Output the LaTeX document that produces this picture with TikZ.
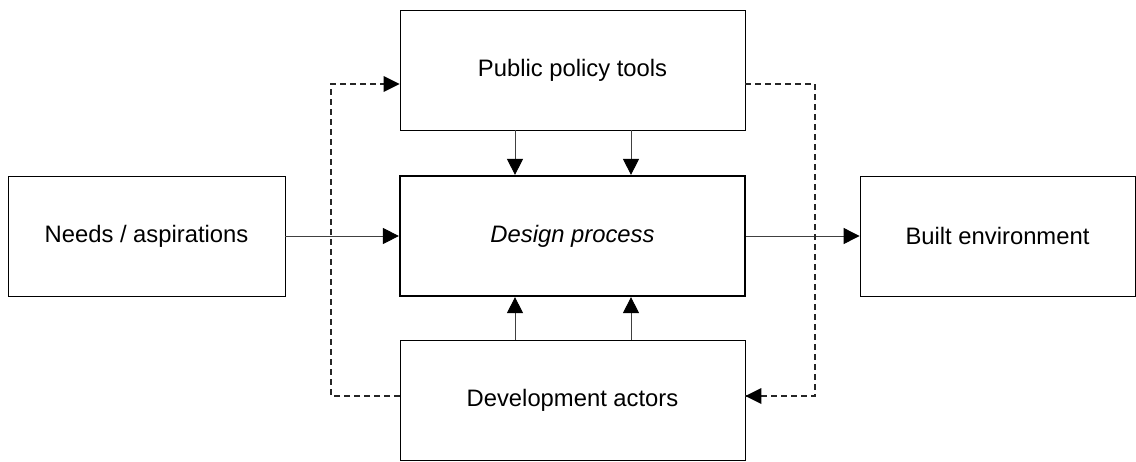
\documentclass[tikz,border=0pt]{standalone}
\usepackage{fontspec}
\setmainfont{Liberation Sans}
\usetikzlibrary{arrows.meta}
\begin{document}
\begin{tikzpicture}[x=1pt,y=-1pt,
  box/.style={draw=black,line width=0.8pt,minimum width=345pt,minimum height=120pt,inner sep=0pt,font=\fontsize{23.8}{28}\selectfont},
  sidebox/.style={box,minimum width=277pt},
  arr/.style={draw=black!75,line width=0.9pt,-{Triangle[length=16pt,width=16pt,fill=black,color=black]}},
  dashln/.style={draw=black!85,line width=1.1pt,dash pattern=on 6pt off 4pt},
  tipfill/.style={fill=black}]
\useasboundingbox (0,0) rectangle (1136,461);
\node[box] (ppt) at (572.5,70) {Public policy tools};
\node[box,line width=2.2pt] (dp) at (572.5,236) {\itshape Design process};
\node[box] (da) at (572.5,400) {Development actors};
\node[sidebox] (na) at (146.5,236) {Needs / aspirations};
\node[sidebox,minimum width=275pt] (be) at (997.5,236) {Built environment};
\coordinate (L1) at (331,84);
\coordinate (L2) at (331,396);
\coordinate (R1) at (815,84);
\coordinate (R2) at (815,396);
\draw[arr] (na.east) -- (dp.west);
\draw[arr] (dp.east) -- (be.west);
\draw[arr] (ppt.south -| 515,0) -- (dp.north -| 515,0);
\draw[arr] (ppt.south -| 631,0) -- (dp.north -| 631,0);
\draw[arr] (da.north -| 515,0) -- (dp.south -| 515,0);
\draw[arr] (da.north -| 631,0) -- (dp.south -| 631,0);
\draw[dashln] (da.west |- L2) -- (L2) -- (L1) -- (ppt.west |- L1);
\fill[tipfill] (ppt.west |- L1) -- ++(-16,-8) -- ++(0,16) -- cycle;
\draw[dashln] (ppt.east |- R1) -- (R1) -- (R2) -- (da.east |- R2);
\fill[tipfill] (da.east |- R2) -- ++(16,-8) -- ++(0,16) -- cycle;
\end{tikzpicture}
\end{document}
